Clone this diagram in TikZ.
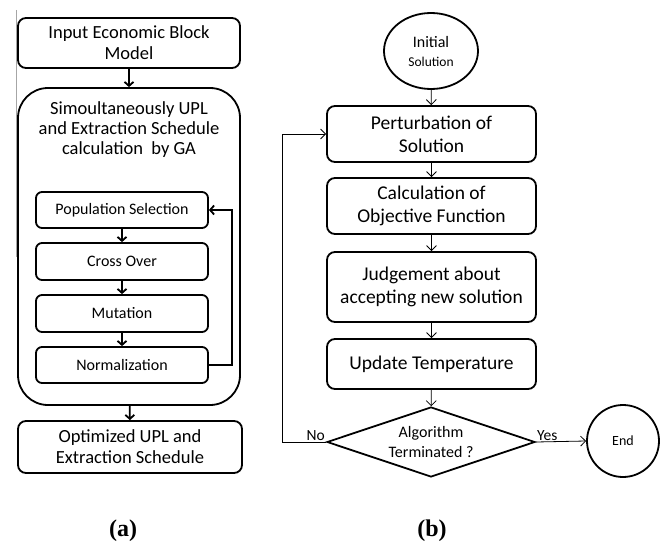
\documentclass[tikz,border=0pt]{standalone}
\usepackage{fontspec}
\setmainfont{Carlito}
\newfontfamily\capfont{Liberation Serif}
\usetikzlibrary{shapes.geometric,arrows.meta}

\begin{document}
\begin{tikzpicture}[
            x=1pt,y=-1pt,
            box/.style={rectangle,draw,line width=1.8pt,rounded corners=8pt,align=center,
                        inner sep=0pt,font=\fontsize{18.5}{21}\selectfont},
            stagebox/.style={rectangle,draw,line width=1.8pt,rounded corners=6pt,align=center,
                        minimum width=172pt,inner sep=0pt,font=\fontsize{16}{19}\selectfont},
            sabox/.style={box,minimum width=209pt,font=\fontsize{19.5}{23}\selectfont},
            thickarrow/.style={draw,line width=1.8pt,-{Straight Barb[length=4pt,width=9pt]}},
            thinarrow/.style={draw,line width=0.8pt,-{Straight Barb[length=5pt,width=10pt]}},
            edgelabel/.style={inner sep=1pt,font=\fontsize{15.5}{18}\selectfont}
        ]
        \useasboundingbox (0,0) rectangle (662,543);
        \draw[gray!70,line width=0.7pt] (16,10) -- (16,257);
        \node[box,minimum width=222pt,minimum height=50pt] (input) at (129,43) {Input Economic Block\\Model};
        \node[box,rounded corners=30pt,minimum width=222pt,minimum height=317pt] (ga) at (129,246.5) {};
        \node[align=center,font=\fontsize{18.5}{20}\selectfont] (gatitle) at (129,130) {Simoultaneously UPL\\and Extraction Schedule\\calculation~~by GA};
        \node[stagebox,minimum height=36pt] (popsel) at (122,210) {Population Selection};
        \node[stagebox,minimum height=37pt] (cross) at (122,261.5) {Cross Over};
        \node[stagebox,minimum height=37pt] (mutation) at (122,313.5) {Mutation};
        \node[stagebox,minimum height=36pt] (normal) at (122,365) {Normalization};
        \node[box,minimum width=224pt,minimum height=52pt] (output) at (130,447) {Optimized UPL and\\Extraction Schedule};
        \draw[thickarrow] (input) -- (ga);
        \draw[thickarrow] (popsel) -- (cross);
        \draw[thickarrow] (cross) -- (mutation);
        \draw[thickarrow] (mutation) -- (normal);
        \draw[thickarrow] (normal.east) -- ++(23,0) |- (popsel.east);
        \draw[thickarrow] (ga) -- (output);

        \node[ellipse,draw,line width=1.8pt,minimum width=94pt,minimum height=76pt,inner sep=0pt,align=center,
              font=\fontsize{16}{19}\selectfont] (init) at (431,51)
            {Initial\\{\fontsize{13.5}{16}\selectfont Solution}};
        \node[sabox,minimum height=56pt] (perturb) at (431.5,134) {Perturbation of\\Solution};
        \node[sabox,minimum height=56pt] (objfun) at (431.5,206) {Calculation of\\Objective Function};
        \node[sabox,minimum height=70pt] (judge) at (431.5,287) {Judgement about\\accepting new solution};
        \node[sabox,minimum height=50pt] (temp) at (431.5,364) {Update Temperature};
        \node[diamond,aspect=3,draw,line width=1.8pt,minimum width=208pt,minimum height=70pt,inner sep=0pt,align=center,
              font=\fontsize{16}{20}\selectfont] (stop) at (431,442) {Algorithm\\Terminated ?};
        \node[circle,draw,line width=1.8pt,minimum size=72pt,inner sep=0pt,font=\fontsize{14}{17}\selectfont] (finish) at (623,441) {End};
        \draw[thinarrow] (init) -- (perturb);
        \draw[thinarrow] (perturb) -- (objfun);
        \draw[thinarrow] (objfun) -- (judge);
        \draw[thinarrow] (judge) -- (temp);
        \draw[thinarrow] (temp) -- (stop);
        \draw[thinarrow] (stop.west) -- ++(-44,0) |- (perturb.west);
        \draw[thinarrow] (stop.east) -- (finish.west);
        \node[edgelabel,anchor=south east] (nolabel) at (stop.west) {No};
        \node[edgelabel,anchor=south west] (yeslabel) at (stop.east) {Yes};

        \node[font=\capfont\bfseries\fontsize{24}{26}\selectfont] (capa) at (123,531) {(a)};
        \node[font=\capfont\bfseries\fontsize{24}{26}\selectfont] (capb) at (432,531) {(b)};
    \end{tikzpicture}
\end{document}
